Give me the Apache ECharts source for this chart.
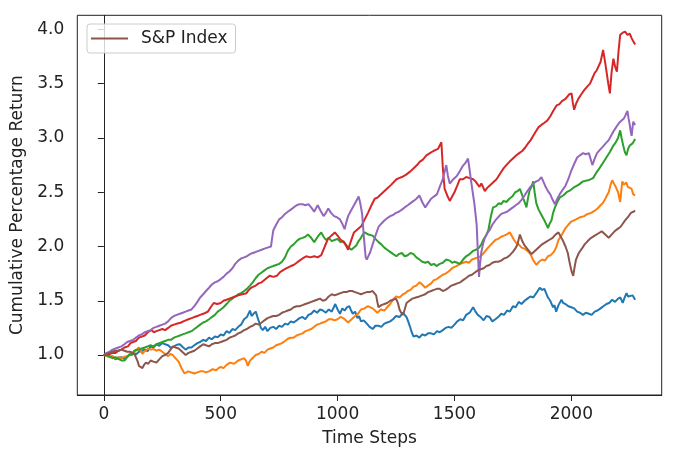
<!DOCTYPE html>
<html>
<head>
<meta charset="utf-8">
<script src="https://cdn.jsdelivr.net/npm/echarts@6/dist/echarts.min.js"></script>
<style>
html,body{margin:0;padding:0;background:#fff;}
#c{width:680px;height:456px;}
</style>
</head>
<body>
<div id="c"></div>
<script>
const xTicks = [0, 500, 1000, 1500, 2000];
const yTicks = [1.0, 1.5, 2.0, 2.5, 3.0, 3.5, 4.0];

const blue = [[0,1.00],[12,1.01],[25,0.98],[37,0.99],[50,0.96],[62,0.975],[75,0.98],[88,0.965],[100,0.99],[112,1.00],[125,1.02],[137,1.005],[150,1.03],[162,1.04],[175,1.05],[187,1.035],[200,1.08],[212,1.07],[225,1.10],[237,1.085],[250,1.11],[262,1.10],[275,1.09],[287,1.065],[300,1.08],[312,1.095],[325,1.10],[337,1.075],[350,1.05],[362,1.07],[375,1.07],[387,1.09],[400,1.11],[412,1.12],[425,1.14],[437,1.13],[450,1.16],[462,1.145],[475,1.17],[487,1.165],[500,1.19],[512,1.18],[525,1.22],[537,1.205],[550,1.24],[562,1.23],[575,1.26],[587,1.28],[600,1.33],[612,1.35],[625,1.41],[632,1.36],[640,1.38],[650,1.40],[657,1.35],[665,1.30],[672,1.25],[680,1.23],[690,1.26],[700,1.22],[712,1.25],[725,1.26],[737,1.24],[750,1.27],[762,1.26],[775,1.29],[787,1.28],[800,1.31],[812,1.30],[825,1.32],[837,1.34],[850,1.35],[862,1.33],[875,1.37],[887,1.38],[900,1.41],[912,1.39],[925,1.42],[937,1.41],[950,1.39],[962,1.42],[975,1.40],[990,1.47],[1000,1.42],[1010,1.38],[1020,1.43],[1030,1.41],[1040,1.44],[1050,1.45],[1058,1.41],[1065,1.38],[1075,1.40],[1085,1.34],[1092,1.36],[1100,1.31],[1112,1.32],[1125,1.29],[1137,1.26],[1150,1.24],[1162,1.27],[1175,1.27],[1187,1.26],[1200,1.29],[1212,1.30],[1225,1.31],[1237,1.33],[1250,1.36],[1265,1.35],[1280,1.39],[1287,1.37],[1295,1.35],[1302,1.31],[1310,1.26],[1317,1.21],[1325,1.17],[1337,1.18],[1350,1.16],[1362,1.19],[1375,1.18],[1387,1.20],[1400,1.20],[1412,1.19],[1425,1.22],[1437,1.21],[1450,1.23],[1462,1.25],[1475,1.26],[1487,1.25],[1500,1.28],[1512,1.31],[1525,1.33],[1537,1.32],[1550,1.37],[1565,1.39],[1580,1.44],[1590,1.40],[1600,1.37],[1612,1.35],[1625,1.32],[1637,1.36],[1650,1.35],[1662,1.31],[1675,1.33],[1687,1.35],[1700,1.38],[1712,1.37],[1725,1.41],[1737,1.40],[1750,1.45],[1762,1.44],[1775,1.49],[1787,1.47],[1800,1.50],[1812,1.52],[1825,1.54],[1837,1.53],[1850,1.57],[1858,1.56],[1865,1.62],[1875,1.60],[1885,1.61],[1892,1.57],[1900,1.53],[1910,1.50],[1922,1.44],[1928,1.46],[1935,1.40],[1945,1.46],[1958,1.51],[1965,1.48],[1975,1.47],[1987,1.45],[2000,1.44],[2012,1.43],[2025,1.40],[2037,1.39],[2050,1.37],[2062,1.39],[2075,1.38],[2087,1.37],[2100,1.40],[2112,1.41],[2125,1.43],[2137,1.45],[2150,1.47],[2162,1.48],[2175,1.51],[2187,1.49],[2200,1.52],[2210,1.53],[2220,1.48],[2228,1.53],[2236,1.57],[2243,1.54],[2250,1.53],[2262,1.55],[2273,1.51]];

const orange = [[0,1.00],[12,0.99],[25,0.98],[37,0.985],[50,0.97],[62,0.98],[75,0.97],[88,0.985],[100,0.99],[112,1.00],[125,1.01],[137,1.04],[150,1.07],[158,1.04],[165,1.01],[172,1.03],[180,1.04],[190,1.06],[200,1.05],[212,1.055],[225,1.04],[237,1.05],[250,1.03],[262,1.01],[275,0.99],[285,1.01],[295,1.00],[307,0.97],[320,0.94],[332,0.88],[345,0.83],[360,0.85],[375,0.84],[387,0.83],[400,0.84],[412,0.85],[425,0.85],[437,0.84],[450,0.85],[465,0.87],[481,0.86],[490,0.88],[500,0.89],[512,0.88],[525,0.91],[532,0.90],[540,0.93],[557,0.92],[575,0.95],[587,0.96],[600,0.97],[608,0.95],[616,0.90],[623,0.94],[630,0.96],[640,0.98],[650,1.00],[662,1.01],[675,1.03],[687,1.02],[700,1.05],[712,1.06],[725,1.07],[737,1.09],[750,1.10],[762,1.11],[775,1.13],[787,1.15],[800,1.16],[812,1.16],[825,1.18],[837,1.19],[850,1.20],[862,1.22],[875,1.23],[887,1.24],[900,1.26],[912,1.28],[925,1.29],[937,1.30],[950,1.31],[962,1.33],[975,1.33],[987,1.32],[1000,1.33],[1012,1.35],[1025,1.34],[1035,1.32],[1045,1.30],[1060,1.33],[1075,1.36],[1087,1.38],[1100,1.42],[1115,1.43],[1130,1.45],[1140,1.44],[1150,1.43],[1160,1.41],[1170,1.39],[1185,1.42],[1200,1.41],[1212,1.44],[1225,1.47],[1237,1.51],[1250,1.54],[1265,1.53],[1280,1.56],[1290,1.57],[1300,1.59],[1312,1.60],[1325,1.63],[1337,1.64],[1351,1.67],[1362,1.65],[1375,1.62],[1387,1.64],[1400,1.66],[1412,1.69],[1425,1.70],[1437,1.72],[1450,1.74],[1462,1.75],[1475,1.77],[1490,1.80],[1508,1.82],[1515,1.82],[1525,1.84],[1537,1.85],[1550,1.86],[1562,1.85],[1575,1.88],[1587,1.89],[1600,1.90],[1612,1.91],[1625,1.94],[1632,1.93],[1640,1.98],[1657,2.02],[1675,2.06],[1687,2.07],[1700,2.09],[1712,2.10],[1722,2.11],[1730,2.10],[1737,2.13],[1745,2.10],[1755,2.06],[1765,2.03],[1775,2.02],[1787,1.99],[1800,1.98],[1812,1.96],[1825,1.93],[1838,1.87],[1851,1.83],[1862,1.86],[1875,1.88],[1887,1.87],[1900,1.91],[1912,1.92],[1925,1.95],[1935,1.99],[1945,2.06],[1960,2.11],[1975,2.17],[1987,2.20],[2000,2.23],[2020,2.25],[2038,2.27],[2055,2.28],[2070,2.30],[2085,2.31],[2100,2.33],[2112,2.35],[2125,2.38],[2135,2.40],[2143,2.43],[2150,2.46],[2160,2.50],[2168,2.57],[2175,2.61],[2182,2.58],[2190,2.55],[2200,2.50],[2209,2.41],[2214,2.52],[2218,2.60],[2226,2.57],[2235,2.59],[2242,2.55],[2250,2.56],[2258,2.53],[2265,2.48],[2273,2.47]];

const green = [[0,1.00],[12,0.995],[25,0.99],[37,0.97],[50,0.98],[62,0.965],[75,0.95],[82,0.94],[89,0.95],[100,0.98],[110,1.01],[120,1.00],[130,1.04],[140,1.05],[150,1.05],[162,1.06],[175,1.07],[187,1.08],[200,1.09],[212,1.08],[225,1.10],[237,1.11],[250,1.12],[262,1.13],[275,1.14],[287,1.14],[300,1.16],[312,1.17],[325,1.18],[337,1.19],[350,1.20],[362,1.21],[375,1.22],[387,1.24],[400,1.26],[412,1.28],[425,1.30],[437,1.31],[450,1.33],[462,1.35],[475,1.37],[487,1.40],[500,1.42],[512,1.44],[525,1.47],[537,1.50],[550,1.52],[562,1.54],[575,1.56],[587,1.57],[600,1.59],[612,1.61],[625,1.64],[637,1.67],[650,1.71],[662,1.74],[675,1.76],[687,1.78],[700,1.80],[712,1.81],[725,1.82],[737,1.83],[750,1.84],[762,1.86],[775,1.90],[787,1.96],[800,2.00],[812,2.02],[825,2.05],[837,2.07],[850,2.08],[862,2.09],[873,2.11],[887,2.08],[900,2.04],[915,2.09],[930,2.13],[940,2.09],[950,2.06],[962,2.08],[975,2.05],[987,2.06],[1000,2.07],[1012,2.04],[1025,2.05],[1042,2.00],[1059,1.97],[1070,1.99],[1080,2.01],[1090,2.05],[1100,2.08],[1108,2.11],[1116,2.13],[1132,2.11],[1150,2.10],[1162,2.07],[1175,2.04],[1187,2.02],[1200,1.99],[1212,1.97],[1225,1.95],[1238,1.93],[1252,1.91],[1262,1.93],[1275,1.94],[1287,1.91],[1300,1.92],[1312,1.94],[1325,1.93],[1337,1.90],[1350,1.88],[1362,1.86],[1375,1.85],[1387,1.86],[1400,1.83],[1412,1.84],[1423,1.82],[1437,1.84],[1450,1.85],[1465,1.88],[1480,1.87],[1490,1.85],[1500,1.86],[1512,1.85],[1523,1.84],[1537,1.88],[1550,1.91],[1565,1.93],[1580,1.96],[1592,1.97],[1605,1.99],[1615,2.02],[1623,2.06],[1635,2.10],[1645,2.15],[1655,2.27],[1665,2.36],[1677,2.37],[1690,2.40],[1700,2.39],[1710,2.42],[1722,2.41],[1735,2.44],[1747,2.46],[1760,2.50],[1770,2.51],[1780,2.53],[1787,2.49],[1795,2.44],[1802,2.40],[1808,2.36],[1815,2.45],[1822,2.52],[1830,2.55],[1837,2.60],[1843,2.50],[1850,2.40],[1860,2.34],[1870,2.30],[1885,2.24],[1900,2.17],[1907,2.21],[1915,2.24],[1922,2.31],[1930,2.36],[1940,2.41],[1950,2.45],[1965,2.47],[1980,2.50],[1997,2.52],[2015,2.55],[2032,2.57],[2050,2.60],[2072,2.61],[2093,2.63],[2107,2.68],[2120,2.72],[2135,2.77],[2150,2.82],[2165,2.87],[2180,2.93],[2190,2.96],[2200,3.00],[2209,3.07],[2215,3.00],[2222,2.93],[2229,2.87],[2236,2.84],[2243,2.90],[2250,2.93],[2262,2.95],[2273,2.99]];

const red = [[0,1.00],[12,1.005],[25,1.01],[37,1.02],[50,1.02],[62,1.04],[75,1.05],[88,1.07],[103,1.08],[114,1.11],[125,1.12],[137,1.13],[150,1.16],[162,1.17],[175,1.18],[188,1.21],[203,1.23],[214,1.21],[225,1.22],[237,1.23],[250,1.24],[262,1.23],[275,1.25],[287,1.27],[300,1.28],[315,1.29],[331,1.30],[340,1.31],[350,1.32],[362,1.33],[375,1.34],[387,1.35],[400,1.36],[412,1.37],[425,1.38],[435,1.39],[445,1.40],[457,1.44],[470,1.48],[485,1.47],[500,1.48],[512,1.50],[525,1.51],[537,1.52],[550,1.53],[562,1.54],[575,1.55],[592,1.56],[610,1.57],[620,1.60],[630,1.62],[640,1.63],[650,1.64],[662,1.66],[675,1.67],[692,1.70],[709,1.73],[725,1.72],[740,1.73],[752,1.76],[765,1.78],[782,1.80],[800,1.82],[812,1.83],[825,1.85],[837,1.87],[850,1.89],[858,1.90],[866,1.91],[883,1.90],[900,1.91],[915,1.90],[930,1.92],[945,2.00],[959,2.07],[973,2.10],[988,2.13],[1000,2.10],[1010,2.07],[1020,2.05],[1030,2.03],[1038,2.00],[1045,1.97],[1057,2.05],[1070,2.13],[1086,2.16],[1102,2.19],[1116,2.25],[1130,2.31],[1145,2.38],[1159,2.44],[1170,2.45],[1180,2.47],[1195,2.50],[1210,2.53],[1230,2.57],[1252,2.62],[1263,2.63],[1275,2.64],[1292,2.66],[1310,2.69],[1320,2.71],[1330,2.73],[1340,2.75],[1351,2.78],[1365,2.80],[1380,2.84],[1395,2.86],[1410,2.88],[1420,2.89],[1430,2.90],[1437,2.93],[1444,2.96],[1451,2.70],[1458,2.53],[1469,2.47],[1480,2.42],[1490,2.46],[1500,2.50],[1512,2.56],[1523,2.62],[1537,2.62],[1550,2.64],[1565,2.63],[1580,2.62],[1590,2.60],[1600,2.57],[1607,2.55],[1615,2.58],[1622,2.55],[1630,2.51],[1640,2.54],[1650,2.56],[1665,2.59],[1680,2.62],[1695,2.67],[1710,2.72],[1722,2.75],[1735,2.78],[1750,2.81],[1765,2.84],[1777,2.86],[1790,2.88],[1802,2.91],[1815,2.95],[1826,2.98],[1837,3.02],[1848,3.06],[1860,3.10],[1872,3.12],[1885,3.14],[1897,3.16],[1910,3.20],[1923,3.25],[1937,3.30],[1948,3.31],[1960,3.34],[1975,3.36],[1990,3.40],[2001,3.41],[2006,3.33],[2012,3.26],[2021,3.32],[2030,3.36],[2042,3.40],[2055,3.44],[2067,3.47],[2080,3.50],[2090,3.55],[2100,3.60],[2108,3.62],[2115,3.63],[2125,3.70],[2136,3.81],[2143,3.72],[2150,3.62],[2158,3.50],[2165,3.41],[2172,3.60],[2180,3.73],[2187,3.66],[2195,3.61],[2202,3.80],[2209,3.95],[2220,3.97],[2230,3.98],[2240,3.95],[2250,3.96],[2258,3.92],[2265,3.89],[2273,3.86]];

const purple = [[0,1.00],[12,1.02],[25,1.03],[37,1.05],[50,1.06],[62,1.07],[75,1.08],[88,1.10],[100,1.12],[112,1.13],[125,1.14],[137,1.16],[150,1.18],[162,1.19],[175,1.21],[187,1.22],[200,1.23],[212,1.25],[225,1.26],[237,1.27],[250,1.28],[262,1.29],[275,1.31],[287,1.34],[300,1.36],[312,1.37],[325,1.38],[337,1.39],[350,1.40],[362,1.41],[375,1.42],[387,1.45],[400,1.49],[412,1.53],[425,1.56],[437,1.59],[450,1.62],[462,1.65],[475,1.67],[487,1.68],[500,1.70],[512,1.72],[525,1.75],[537,1.77],[550,1.80],[562,1.84],[575,1.87],[587,1.89],[600,1.90],[612,1.91],[625,1.93],[637,1.94],[650,1.95],[662,1.96],[675,1.97],[687,1.98],[700,1.99],[708,1.98],[715,2.00],[720,2.08],[725,2.15],[737,2.20],[750,2.25],[762,2.27],[775,2.30],[787,2.32],[800,2.34],[812,2.36],[825,2.38],[837,2.39],[850,2.39],[862,2.38],[875,2.39],[887,2.36],[900,2.32],[907,2.35],[915,2.38],[927,2.33],[940,2.28],[950,2.31],[960,2.35],[972,2.31],[985,2.28],[997,2.27],[1010,2.25],[1020,2.21],[1030,2.16],[1037,2.22],[1045,2.28],[1057,2.33],[1070,2.38],[1080,2.42],[1090,2.46],[1097,2.40],[1105,2.30],[1112,2.10],[1120,1.90],[1125,1.88],[1130,1.87],[1140,1.95],[1150,2.02],[1162,2.10],[1175,2.18],[1187,2.21],[1200,2.24],[1212,2.26],[1225,2.28],[1237,2.29],[1250,2.31],[1262,2.32],[1275,2.34],[1287,2.36],[1300,2.38],[1312,2.40],[1325,2.42],[1337,2.44],[1350,2.47],[1362,2.41],[1375,2.36],[1387,2.40],[1400,2.44],[1412,2.46],[1425,2.48],[1437,2.55],[1450,2.62],[1457,2.68],[1465,2.75],[1472,2.65],[1480,2.58],[1495,2.62],[1510,2.65],[1522,2.69],[1535,2.74],[1547,2.77],[1558,2.81],[1564,2.72],[1570,2.62],[1578,2.50],[1585,2.40],[1590,2.30],[1595,2.20],[1600,1.95],[1605,1.72],[1610,1.85],[1615,1.95],[1622,2.02],[1630,2.08],[1640,2.12],[1650,2.15],[1662,2.20],[1675,2.24],[1687,2.27],[1700,2.30],[1712,2.31],[1725,2.32],[1737,2.34],[1750,2.36],[1762,2.38],[1775,2.40],[1787,2.43],[1800,2.47],[1812,2.51],[1825,2.55],[1837,2.58],[1850,2.60],[1860,2.61],[1872,2.64],[1880,2.60],[1890,2.55],[1900,2.51],[1910,2.48],[1920,2.43],[1930,2.39],[1940,2.44],[1950,2.48],[1962,2.52],[1975,2.56],[1987,2.62],[2000,2.70],[2012,2.76],[2025,2.82],[2037,2.84],[2050,2.86],[2062,2.85],[2075,2.86],[2082,2.81],[2090,2.75],[2100,2.81],[2110,2.86],[2122,2.89],[2135,2.92],[2147,2.95],[2160,2.98],[2170,3.02],[2180,3.06],[2192,3.10],[2205,3.14],[2215,3.16],[2225,3.18],[2232,3.21],[2240,3.25],[2245,3.18],[2250,3.12],[2254,3.06],[2258,3.02],[2262,3.10],[2265,3.15],[2273,3.12]];

const brown = [[0,1.00],[12,1.01],[25,1.02],[37,1.03],[50,1.04],[62,1.04],[75,1.05],[88,1.04],[100,1.03],[112,1.03],[125,1.02],[133,1.00],[140,0.99],[145,0.94],[150,0.90],[157,0.89],[165,0.88],[172,0.91],[180,0.93],[190,0.92],[200,0.95],[212,0.94],[225,0.93],[237,0.96],[250,0.99],[262,1.00],[275,1.02],[285,1.05],[295,1.08],[307,1.07],[320,1.06],[335,1.03],[350,1.00],[362,1.02],[375,1.03],[387,1.04],[400,1.06],[412,1.08],[425,1.10],[437,1.09],[450,1.08],[462,1.10],[475,1.11],[487,1.11],[500,1.12],[512,1.13],[525,1.14],[537,1.16],[550,1.17],[562,1.18],[575,1.20],[587,1.21],[600,1.23],[612,1.24],[625,1.26],[637,1.27],[650,1.29],[662,1.28],[675,1.30],[687,1.32],[700,1.34],[712,1.35],[725,1.36],[737,1.36],[750,1.37],[762,1.39],[775,1.40],[787,1.41],[800,1.42],[812,1.44],[825,1.45],[837,1.45],[850,1.46],[862,1.47],[875,1.48],[887,1.49],[900,1.50],[912,1.51],[925,1.52],[937,1.50],[950,1.51],[962,1.54],[975,1.56],[987,1.55],[1000,1.56],[1012,1.57],[1025,1.58],[1037,1.58],[1050,1.59],[1062,1.59],[1075,1.58],[1087,1.57],[1100,1.56],[1112,1.57],[1125,1.58],[1137,1.58],[1150,1.59],[1158,1.58],[1165,1.55],[1170,1.49],[1175,1.44],[1187,1.46],[1200,1.47],[1212,1.48],[1225,1.50],[1237,1.51],[1250,1.52],[1258,1.48],[1265,1.42],[1272,1.39],[1280,1.37],[1287,1.42],[1295,1.48],[1307,1.50],[1320,1.52],[1335,1.53],[1350,1.54],[1362,1.55],[1375,1.56],[1387,1.58],[1400,1.59],[1412,1.60],[1425,1.61],[1437,1.61],[1450,1.59],[1462,1.60],[1475,1.62],[1487,1.64],[1500,1.65],[1512,1.66],[1525,1.67],[1537,1.69],[1550,1.71],[1562,1.73],[1575,1.74],[1587,1.76],[1600,1.78],[1612,1.79],[1625,1.80],[1637,1.82],[1650,1.83],[1662,1.85],[1675,1.86],[1687,1.86],[1700,1.87],[1712,1.89],[1725,1.90],[1737,1.92],[1750,1.95],[1760,1.98],[1770,2.02],[1775,2.07],[1780,2.11],[1790,2.05],[1800,2.01],[1815,1.97],[1830,1.93],[1845,1.96],[1860,1.99],[1875,2.02],[1890,2.04],[1905,2.06],[1920,2.08],[1932,2.11],[1945,2.13],[1955,2.09],[1965,2.05],[1975,2.00],[1985,1.94],[1992,1.86],[2000,1.78],[2008,1.73],[2014,1.81],[2020,1.88],[2032,1.94],[2045,1.98],[2057,2.02],[2070,2.05],[2085,2.08],[2100,2.10],[2115,2.12],[2130,2.14],[2145,2.11],[2160,2.08],[2172,2.11],[2185,2.14],[2197,2.16],[2210,2.18],[2220,2.21],[2230,2.24],[2242,2.27],[2255,2.31],[2265,2.32],[2273,2.33]];

const seriesDefs = [
  {name: 'Series 1', data: blue, color: '#1f77b4'},
  {name: 'Series 2', data: orange, color: '#ff7f0e'},
  {name: 'Series 3', data: green, color: '#2ca02c'},
  {name: 'Series 4', data: red, color: '#d62728'},
  {name: 'Series 5', data: purple, color: '#9467bd'},
  {name: 'S&P Index', data: brown, color: '#8c564b'}
];

const FONT = 'DejaVu Sans';
const FS = 17;
const chart = echarts.init(document.getElementById('c'), null, {renderer: 'canvas'});
chart.setOption({
  animation: false,
  backgroundColor: '#fff',
  grid: {left: 77.3, right: 18.3, top: 15.3, bottom: 61, show: true, borderColor: '#222', borderWidth: 1, backgroundColor: 'transparent'},
  legend: {
    data: ['S&P Index'],
    left: 87, top: 24,
    orient: 'vertical',
    padding: [6, 8, 6, 4],
    borderColor: '#cccccc', borderWidth: 1, borderRadius: 3,
    backgroundColor: 'rgba(255,255,255,0.8)',
    icon: 'rect', itemWidth: 37, itemHeight: 2,
    textStyle: {fontFamily: FONT, fontSize: FS, color: '#222', padding: [0, 0, 0, 8]}
  },
  xAxis: {
    type: 'value', min: -113.65, max: 2386.65,
    name: 'Time Steps', nameLocation: 'middle', nameGap: 35,
    nameTextStyle: {fontFamily: FONT, fontSize: FS, color: '#222'},
    axisLine: {show: true, lineStyle: {color: '#222', width: 1}},
    axisTick: {show: true, length: 6, lineStyle: {color: '#222'}, customValues: xTicks},
    axisLabel: {fontFamily: FONT, fontSize: FS, color: '#222', margin: 11, customValues: xTicks, formatter: v => String(v)},
    splitLine: {show: false}
  },
  yAxis: {
    type: 'value', min: 0.632, max: 4.13,
    name: 'Cumulative Percentage Return', nameLocation: 'middle', nameGap: 51,
    nameTextStyle: {fontFamily: FONT, fontSize: FS, color: '#222'},
    axisLine: {show: true, lineStyle: {color: '#222', width: 1}},
    axisTick: {show: true, length: 6, lineStyle: {color: '#222'}, customValues: yTicks},
    axisLabel: {fontFamily: FONT, fontSize: FS, color: '#222', margin: 13, customValues: yTicks, formatter: v => v.toFixed(1)},
    splitLine: {show: false}
  },
  series: seriesDefs.map(s => ({
    name: s.name, type: 'line', data: s.data,
    showSymbol: false, symbol: 'none',
    lineStyle: {color: s.color, width: 2},
    itemStyle: {color: s.color},
    emphasis: {disabled: true}
  }))
});
</script>
</body>
</html>
